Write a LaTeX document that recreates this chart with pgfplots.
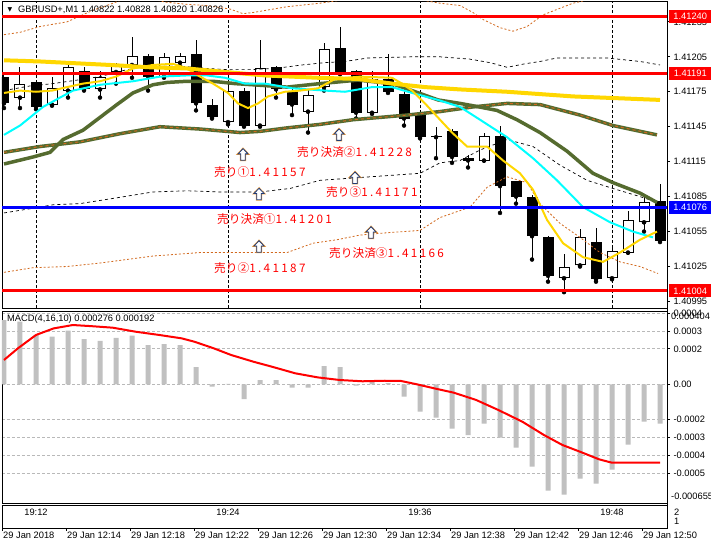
\documentclass[border=0pt]{standalone}
\usepackage{pgfplots}
\usepackage{pgfplotstable}
\pgfplotsset{compat=1.18}
\usepackage{fontspec}
\setmainfont{Liberation Sans}
\newfontfamily\cjk{Noto Sans CJK JP}
\newfontfamily\cjkd[LetterSpace=20]{Noto Sans CJK JP}
\newfontfamily\symf{DejaVu Sans}
\definecolor{mtgold}{HTML}{FFD700}
\definecolor{mtolive}{HTML}{556B2F}
\definecolor{mtchoc}{HTML}{D2691E}
\definecolor{mtsilver}{HTML}{C0C0C0}
\definecolor{mtnavy}{HTML}{1F3C78}
\definecolor{mtcyan}{HTML}{00FFFF}
\definecolor{mtorange}{HTML}{F0A040}
\newcommand\tf{\fontsize{9.3}{11}\selectfont}
\newcommand\jf{\fontsize{11.7}{13}\selectfont}
\newcommand\jp[2]{{\cjk #1}{\cjkd #2}}
\pgfdeclareplotmark{uparr}{%
  \pgfpathmoveto{\pgfqpoint{0pt}{6pt}}%
  \pgfpathlineto{\pgfqpoint{5pt}{0.8pt}}%
  \pgfpathlineto{\pgfqpoint{2.2pt}{0.8pt}}%
  \pgfpathlineto{\pgfqpoint{2.2pt}{-5.5pt}}%
  \pgfpathlineto{\pgfqpoint{-2.2pt}{-5.5pt}}%
  \pgfpathlineto{\pgfqpoint{-2.2pt}{0.8pt}}%
  \pgfpathlineto{\pgfqpoint{-5pt}{0.8pt}}%
  \pgfpathclose
  \pgfusepathqfillstroke}

\pgfplotstableread{
i o h l c
1 1.41170 1.41196 1.41161 1.41182
3 1.41164 1.41188 1.41163 1.41178
4 1.41176 1.41201 1.41170 1.41196
6 1.41177 1.41193 1.41170 1.41188
7 1.41192 1.41200 1.41182 1.41199
8 1.41198 1.41222 1.41187 1.41206
10 1.41188 1.41208 1.41187 1.41205
11 1.41200 1.41208 1.41197 1.41206
14 1.41149 1.41192 1.41147 1.41176
16 1.41146 1.41219 1.41145 1.41195
19 1.41158 1.41177 1.41140 1.41172
20 1.41179 1.41217 1.41176 1.41212
23 1.41157 1.41193 1.41156 1.41186
30 1.41116 1.41140 1.41116 1.41137
35 1.41015 1.41036 1.41003 1.41025
36 1.41026 1.41057 1.41025 1.41050
38 1.41015 1.41043 1.41014 1.41038
39 1.41037 1.41073 1.41037 1.41065
40 1.41063 1.41085 1.41055 1.41080
}\bull
\pgfplotstableread{
i o h l c
0 1.41188 1.41189 1.41161 1.41165
2 1.41183 1.41184 1.41160 1.41162
5 1.41193 1.41196 1.41176 1.41177
9 1.41206 1.41207 1.41176 1.41188
12 1.41207 1.41219 1.41159 1.41165
13 1.41164 1.41169 1.41152 1.41153
15 1.41176 1.41178 1.41145 1.41146
17 1.41196 1.41197 1.41170 1.41177
18 1.41176 1.41181 1.41155 1.41164
21 1.41213 1.41231 1.41190 1.41191
22 1.41193 1.41194 1.41152 1.41157
24 1.41186 1.41207 1.41174 1.41175
25 1.41173 1.41178 1.41146 1.41152
26 1.41155 1.41156 1.41135 1.41136
27 1.41137 1.41145 1.41118 1.41136
28 1.41141 1.41143 1.41114 1.41119
29 1.41118 1.41121 1.41110 1.41116
31 1.41137 1.41146 1.41071 1.41094
32 1.41098 1.41098 1.41079 1.41085
33 1.41085 1.41086 1.41031 1.41051
34 1.41050 1.41051 1.41012 1.41017
37 1.41046 1.41058 1.41012 1.41014
41 1.41081 1.41096 1.41046 1.41047
}\bear

\begin{document}
\begin{tikzpicture}
\useasboundingbox (0,0) rectangle (711pt,550pt);
\fill[white] (0,0) rectangle (711pt,550pt);

% ================= MAIN PRICE PANEL =================
\begin{axis}[at={(2pt,242pt)}, anchor=south west, width=665pt, height=307pt, scale only axis,
  xmin=-0.125, xmax=41.4375, ymin=1.409894, ymax=1.412529,
  clip mode=individual, scaled y ticks=false, scaled x ticks=false,
  axis line style={black,line width=0.8pt},
  xtick={2,14,26,38}, xticklabels={,,,}, xtick style={draw=none},
  xmajorgrids, major grid style={black, line width=0.7pt, dash pattern=on 3pt off 2pt},
  ytick={1.40995,1.41025,1.41055,1.41085,1.41115,1.41145,1.41175,1.41205,1.41235},
  yticklabels={1.40995,1.41025,1.41055,1.41085,1.41115,1.41145,1.41175,1.41205,1.41235},
  ytick pos=right, yticklabel pos=right, tick align=outside, major tick length=3pt,
  ytick style={black, line width=0.8pt},
  tick label style={font=\tf, text=black},
]
% candle wicks
\addplot[only marks, mark=none, error bars/.cd, y dir=plus, y explicit, error mark=none,
  error bar style={draw=black, line width=1pt}]
  table[x=i, y=l, y error plus expr={\thisrow{h}-\thisrow{l}}] {\bear};
\addplot[only marks, mark=none, error bars/.cd, y dir=plus, y explicit, error mark=none,
  error bar style={draw=black, line width=1pt}]
  table[x=i, y=l, y error plus expr={\thisrow{h}-\thisrow{l}}] {\bull};
% bear bodies
\addplot[only marks, mark=none, error bars/.cd, y dir=plus, y explicit, error mark=none,
  error bar style={draw=black, line width=11pt}]
  table[x=i, y=c, y error plus expr={\thisrow{o}-\thisrow{c}}] {\bear};
% bull bodies
\addplot[only marks, mark=none, error bars/.cd, y dir=plus, y explicit, error mark=none,
  error bar style={draw=black, line width=11pt}]
  table[x=i, y=o, y error plus expr={\thisrow{c}-\thisrow{o}}] {\bull};
\addplot[only marks, mark=none, error bars/.cd, y dir=plus, y explicit, error mark=none,
  error bar style={draw=white, line width=9pt, shorten <=1pt, shorten >=1pt}]
  table[x=i, y=o, y error plus expr={\thisrow{c}-\thisrow{o}}] {\bull};

% upper band (orange dotted)
\addplot[mtchoc, line width=0.8pt, dash pattern=on 2pt off 2pt] coordinates {
(0,1.41224) (1,1.41226) (2.25,1.41231) (3.94,1.41235) (5.56,1.41245) (6.625,1.41250) (7.56,1.41255) (8.5,1.41256) (9.44,1.41254) (10.06,1.41252) (11.44,1.41250) (12.69,1.41249) (14.125,1.41246) (14.94,1.41242) (15.56,1.41243) (17.69,1.41248) (19.75,1.41251) (22.25,1.41256) (24.75,1.41257) (27.25,1.41251) (28.5,1.41249) (29.31,1.41243) (29.94,1.41237) (31,1.41230) (31.81,1.41227) (32.69,1.41231) (33.69,1.41241) (35.56,1.41251) (37.875,1.41258) (41,1.41264)};
% lower band (orange dotted)
\addplot[mtchoc, line width=0.8pt, dash pattern=on 2pt off 2pt] coordinates {
(0,1.41020) (1.81,1.41024) (3.94,1.41025) (6,1.41028) (9.31,1.41034) (12.25,1.41037) (14.75,1.41037) (17.69,1.41037) (19.31,1.41045) (20.81,1.41048) (22.25,1.41052) (23.94,1.41054) (26,1.41056) (27.25,1.41067) (29.125,1.41076) (30.19,1.41093) (31.44,1.41102) (32.69,1.41097) (33.5,1.41079) (34.75,1.41062) (36,1.41050) (37.25,1.41037) (38.5,1.41029) (39.75,1.41025) (40.875,1.41019)};
% upper black dashed
\addplot[black, line width=0.7pt, dash pattern=on 3pt off 3pt] coordinates {
(0,1.41176) (1.625,1.41180) (3.06,1.41182) (4.56,1.41185) (6,1.41188) (7.69,1.41194) (9.31,1.41197) (11,1.41197) (12.69,1.41195) (13.94,1.41194) (15.375,1.41194) (16.94,1.41195) (18.625,1.41198) (20.06,1.41200) (21.31,1.41201) (22.75,1.41204) (25.5,1.41205) (27.25,1.41205) (29.125,1.41203) (30.375,1.41200) (31.44,1.41196) (32.56,1.41199) (33.5,1.41201) (34.56,1.41204) (37.69,1.41204) (39.75,1.41201) (41,1.41198)};
% lower black dashed
\addplot[black, line width=0.7pt, dash pattern=on 3pt off 3pt] coordinates {
(0,1.41071) (1.81,1.41075) (3.06,1.41078) (4.75,1.41079) (7.06,1.41084) (9.31,1.41089) (11.44,1.41090) (13.5,1.41089) (16,1.41089) (17.875,1.41092) (19.75,1.41099) (22.875,1.41102) (26,1.41105) (27.25,1.41114) (28.5,1.41116) (29.75,1.41125) (31.44,1.41134) (33.06,1.41128) (34.75,1.41112) (36.44,1.41099) (38.06,1.41092) (39.75,1.41085) (40.875,1.41080)};
% olive A with orange overlay
\addplot[mtolive, line width=3.5pt] coordinates {
(0,1.41123) (2.25,1.41128) (4.75,1.41132) (7.25,1.41139) (9.75,1.41145) (12.25,1.41143) (14.75,1.41140) (16,1.41141) (17.69,1.41144) (19.75,1.41147) (21.81,1.41151) (23.5,1.41153) (25.19,1.41155) (27.25,1.41158) (29.31,1.41162) (31.44,1.41165) (33.5,1.41164) (36,1.41155) (38.06,1.41146) (40.81,1.41138)};
\addplot[mtchoc, line width=1pt, dash pattern=on 3pt off 3pt] coordinates {
(0,1.41123) (2.25,1.41128) (4.75,1.41132) (7.25,1.41139) (9.75,1.41145) (12.25,1.41143) (14.75,1.41140) (16,1.41141) (17.69,1.41144) (19.75,1.41147) (21.81,1.41151) (23.5,1.41153) (25.19,1.41155) (27.25,1.41158) (29.31,1.41162) (31.44,1.41165) (33.5,1.41164) (36,1.41155) (38.06,1.41146) (40.81,1.41138)};
% olive B
\addplot[mtolive, line width=3.5pt] coordinates {
(0,1.41113) (1.81,1.41119) (2.875,1.41123) (3.69,1.41134) (4.94,1.41142) (6,1.41153) (7.06,1.41164) (8.06,1.41174) (9.31,1.41181) (10.19,1.41183) (11.44,1.41184) (13.06,1.41184) (14.44,1.41182) (15.56,1.41181) (17.69,1.41179) (19.75,1.41182) (22.125,1.41185) (24.25,1.41182) (25.5,1.41176) (27.125,1.41168) (28.5,1.41165) (29.31,1.41163) (30.81,1.41159) (32.06,1.41151) (33.5,1.41140) (35.19,1.41124) (36.81,1.41105) (38.06,1.41097) (39.75,1.41088) (40.81,1.41080)};
% gold thick
\addplot[mtgold, line width=4pt] coordinates {
(0,1.41202) (2.25,1.41201) (6.625,1.41198) (9.125,1.41196) (11.44,1.41195) (13.81,1.41192) (16.31,1.41189) (19.625,1.41187) (22.125,1.41186) (24.25,1.41182) (26.31,1.41179) (28.5,1.41177) (31.44,1.41175) (35.56,1.41171) (41,1.41168)};
% cyan
\addplot[mtcyan, line width=2pt] coordinates {
(0,1.41138) (1,1.41146) (1.81,1.41155) (2.44,1.41162) (3.5,1.41170) (4.31,1.41176) (6,1.41181) (8.06,1.41184) (9.75,1.41188) (11.44,1.41189) (12.69,1.41189) (13.81,1.41187) (15.06,1.41182) (16.31,1.41182) (18,1.41178) (20.06,1.41176) (21.31,1.41175) (23,1.41179) (24.25,1.41179) (25.5,1.41174) (27.125,1.41168) (28.5,1.41162) (29.75,1.41151) (31.44,1.41136) (33.06,1.41118) (34.56,1.41099) (36.19,1.41076) (37.875,1.41063) (39.31,1.41055) (40.56,1.41050)};
% thin yellow
\addplot[mtgold, line width=2pt] coordinates {
(0,1.41174) (1,1.41176) (2,1.41175) (3,1.41176) (3.94,1.41179) (4.94,1.41182) (6,1.41184) (7,1.41188) (8.06,1.41195) (9.31,1.41198) (10.56,1.41199) (11.44,1.41195) (12.25,1.41188) (13.06,1.41182) (14,1.41174) (14.625,1.41165) (15.25,1.41161) (15.875,1.41165) (16.5,1.41171) (17.56,1.41175) (18.5,1.41176) (19.625,1.41178) (20.69,1.41186) (22.25,1.41188) (24.25,1.41187) (24.875,1.41182) (25.5,1.41176) (26.31,1.41165) (27.25,1.41151) (28,1.41140) (28.94,1.41128) (30.19,1.41128) (31.19,1.41116) (32.25,1.41105) (33.06,1.41091) (33.94,1.41065) (34.94,1.41045) (36.19,1.41033) (37.44,1.41029) (38.5,1.41037) (39.75,1.41048) (40.81,1.41055)};

% horizontal price lines
\addplot[red, line width=3pt] coordinates {(-0.125,1.41240) (41.4375,1.41240)};
\addplot[red, line width=3pt] coordinates {(-0.125,1.41191) (41.4375,1.41191)};
\addplot[red, line width=3pt] coordinates {(-0.125,1.41004) (41.4375,1.41004)};
\addplot[blue, line width=3pt] coordinates {(-0.125,1.41076) (41.4375,1.41076)};

% arrows (orange halo + navy outline)
\addplot[only marks, mark=uparr, mark options={fill=white, draw=mtorange, line width=1.8pt}] coordinates {
(14.94,1.41121) (20.94,1.41138) (15.94,1.41087) (21.94,1.41101) (15.94,1.41042) (22.94,1.41054)};
\addplot[only marks, mark=uparr, mark options={fill=white, draw=mtnavy, line width=0.8pt}] coordinates {
(14.94,1.41121) (20.94,1.41138) (15.94,1.41087) (21.94,1.41101) (15.94,1.41042) (22.94,1.41054)};

% annotations
\begin{scope}[every node/.style={anchor=west, inner sep=0pt, text=red, font=\jf}]
\node at (axis cs:13.125,1.411061) {\jp{売り①}{1.41157}};
\node at (axis cs:18.31,1.411233) {\jp{売り決済②}{1.41228}};
\node at (axis cs:20.125,1.410889) {\jp{売り③}{1.41171}};
\node at (axis cs:13.31,1.410658) {\jp{売り決済①}{1.41201}};
\node at (axis cs:20.31,1.410366) {\jp{売り決済③}{1.41166}};
\node at (axis cs:13.125,1.410237) {\jp{売り②}{1.41187}};
\end{scope}

% price boxes
\begin{scope}[every node/.style={anchor=west, inner sep=0pt, xshift=2pt, text=white, font=\tf, minimum width=42pt, minimum height=13pt}]
\node[fill=red] at (axis cs:41.4375,1.41240) {1.41240};
\node[fill=red] at (axis cs:41.4375,1.41191) {1.41191};
\node[fill=red] at (axis cs:41.4375,1.41004) {1.41004};
\node[fill=blue] at (axis cs:41.4375,1.41076) {1.41076};
\end{scope}

% header
\node[anchor=center, inner sep=0pt, font=\symf\fontsize{6}{7}\selectfont] at (rel axis cs:0.0120,0.9707) {▼};
\node[anchor=west, inner sep=0pt, font=\tf] at (rel axis cs:0.0241,0.9707) {GBPUSD+,M1 1.40822 1.40828 1.40820 1.40826};
\end{axis}

% ================= MACD PANEL =================
\begin{axis}[at={(2pt,47pt)}, anchor=south west, width=665pt, height=192pt, scale only axis,
  xmin=-0.125, xmax=41.4375, ymin=-0.000669, ymax=0.000413,
  clip mode=individual, scaled y ticks=false, scaled x ticks=false,
  axis line style={black,line width=0.8pt},
  xtick=\empty,
  ytick={-0.0005,-0.0004,-0.0003,-0.0002,0,0.0002,0.0003,0.0004},
  yticklabels={-0.0005,-0.0004,-0.0003,-0.0002,0.00,0.0002,0.0003,0.0004},
  ytick pos=right, yticklabel pos=right, tick align=outside, major tick length=3pt,
  ytick style={black, line width=0.8pt},
  ymajorgrids, major grid style={gray!55, line width=0.7pt, dash pattern=on 3pt off 2pt},
  tick label style={font=\tf, text=black},
]
\addplot[ybar, bar width=5pt, fill=mtsilver, draw=none] coordinates {
(0,0.000362) (1,0.000353) (2,0.000278) (3,0.000268) (4,0.000302) (5,0.000255) (6,0.000244) (7,0.000261) (8,0.000274) (9,0.000221) (10,0.000227) (11,0.000221) (12,0.000097) (13,-0.000013) (14,0.000002) (15,-0.000083) (16,0.000024) (17,0.000024) (18,-0.000019) (19,-0.000019) (20,0.000103) (21,0.000097) (22,-0.000008) (23,0.000019) (24,0.000006) (25,-0.000070) (26,-0.000154) (27,-0.000188) (28,-0.000250) (29,-0.000286) (30,-0.000222) (31,-0.000301) (32,-0.000357) (33,-0.000464) (34,-0.000599) (35,-0.000622) (36,-0.000532) (37,-0.000560) (38,-0.000481) (39,-0.000340) (40,-0.000211) (41,-0.000222)};
\addplot[red, line width=2pt] coordinates {
(0,0.000137) (0.875,0.000203) (2,0.000278) (3.1,0.000315) (4.3,0.000334) (5.4,0.000328) (6.8,0.000319) (8.25,0.000296) (9.7,0.000278) (11.1,0.000259) (11.9,0.000240) (13.1,0.000203) (14.2,0.000165) (15.6,0.000127) (16.75,0.000099) (18.2,0.000062) (19.6,0.000039) (21,0.000024) (22.4,0.000017) (23.8,0.000020) (24.8,0.000019) (25.8,0.000000) (26.9,-0.000023) (28.1,-0.000047) (29.5,-0.000088) (30.9,-0.000145) (32.4,-0.000211) (33.75,-0.000286) (34.9,-0.000342) (36,-0.000380) (37.2,-0.000423) (38,-0.000442) (41,-0.000442)};
\node[anchor=west, inner sep=0pt, font=\tf] at (rel axis cs:0.0075,0.958) {MACD(4,16,10) 0.000276 0.000192};
\node[anchor=west, inner sep=0pt, font=\tf] at ([xshift=4pt]rel axis cs:1,0.974) {0.000404};
\node[anchor=west, inner sep=0pt, font=\tf] at ([xshift=4pt]rel axis cs:1,0.036) {-0.000655};
\end{axis}

% ================= TIME PANEL =================
\begin{axis}[at={(2pt,22pt)}, anchor=south west, width=665pt, height=23pt, scale only axis,
  xmin=-0.125, xmax=41.4375, ymin=0.22, ymax=2.78,
  clip mode=individual,
  axis line style={black,line width=0.8pt},
  ytick={1,2}, yticklabels={1,2}, ytick pos=right, yticklabel pos=right, ytick style={draw=none},
  xtick={-0.125,3.875,7.875,11.875,15.875,19.875,23.875,27.875,31.875,35.875,39.875},
  xticklabels={29 Jan 2018,29 Jan 12:14,29 Jan 12:18,29 Jan 12:22,29 Jan 12:26,29 Jan 12:30,29 Jan 12:34,29 Jan 12:38,29 Jan 12:42,29 Jan 12:46,29 Jan 12:50},
  xtick pos=left, tick align=outside, major tick length=3pt,
  xtick style={black, line width=0.8pt},
  xticklabel style={anchor=north west, inner sep=1pt},
  yticklabel style={inner sep=1pt, xshift=3pt},
  tick label style={font=\tf, text=black},
]
\node[font=\tf, inner sep=0pt] at (axis cs:2,1.95) {19:12};
\node[font=\tf, inner sep=0pt] at (axis cs:14,1.95) {19:24};
\node[font=\tf, inner sep=0pt] at (axis cs:26,1.95) {19:36};
\node[font=\tf, inner sep=0pt] at (axis cs:38,1.95) {19:48};
\end{axis}
\draw[black, line width=0.8pt] (667pt,22pt) -- (667pt,549pt);
\end{tikzpicture}
\end{document}
